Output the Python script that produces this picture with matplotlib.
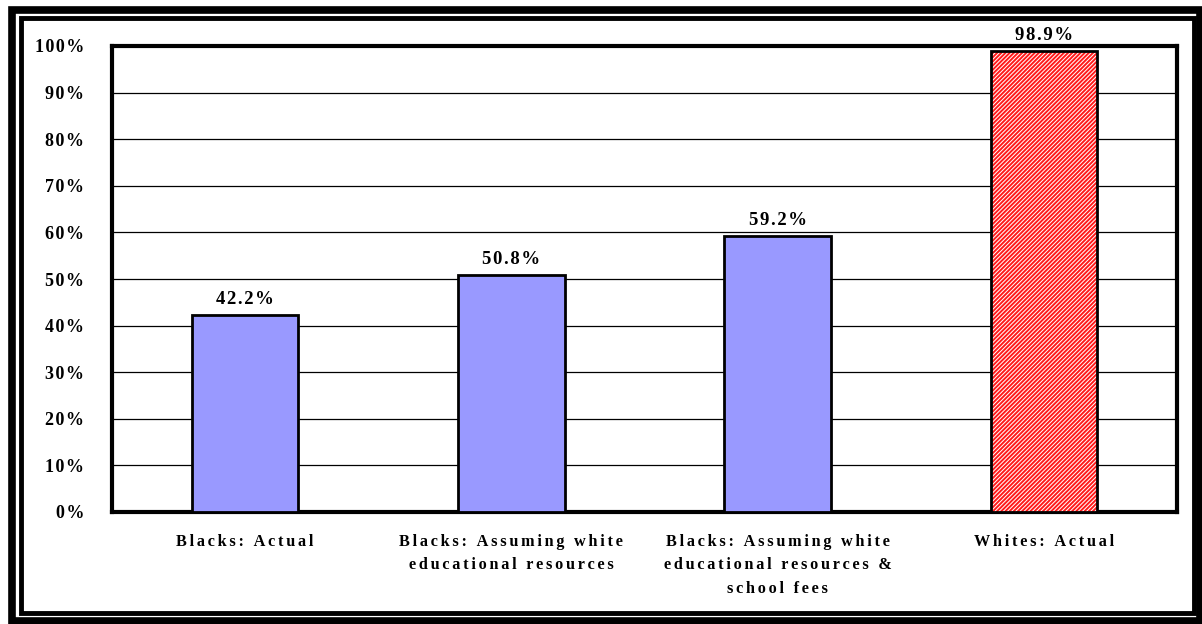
import matplotlib
matplotlib.use("Agg")
import matplotlib.pyplot as plt
from matplotlib.patches import Rectangle

categories = ["Blacks: Actual",
              "Blacks: Assuming white\neducational resources",
              "Blacks: Assuming white\neducational resources &\nschool fees",
              "Whites: Actual"]
values = [42.2, 50.8, 59.2, 98.9]
value_labels = ["42.2%", "50.8%", "59.2%", "98.9%"]
yticks = [0, 10, 20, 30, 40, 50, 60, 70, 80, 90, 100]
ytick_labels = [f"{v}%" for v in yticks]


def spaced(s, n=1):
    sep = "\u200a" * n
    return "\n".join(sep.join(line) for line in s.split("\n"))


plt.rcParams["hatch.linewidth"] = 1.4
W, H = 1202, 624
fig = plt.figure(figsize=(W / 100, H / 100), dpi=100)
font = "Liberation Serif"

# double frame
fig.patches.append(Rectangle((11.5 / W, 3.5 / H), (W - 2 - 11.5) / W, (H - 3.5 - 9.5) / H,
                             transform=fig.transFigure, fill=False, lw=5.5, ec="black"))
fig.patches.append(Rectangle((20.5 / W, 11 / H), (1193.5 - 20.5) / W, (H - 11 - 18) / H,
                             transform=fig.transFigure, fill=False, lw=3.5, ec="black"))

left, right, top, bottom = 112, 1177, 46, 512
ax = fig.add_axes([left / W, 1 - bottom / H, (right - left) / W, (bottom - top) / H])

x = list(range(len(categories)))
ax.bar(x[:3], values[:3], width=0.4, color="#9999FF", edgecolor="black", linewidth=2, zorder=3)
ax.bar(x[3:], values[3:], width=0.4, color="white", edgecolor="#FF1A1A", hatch="////////",
       linewidth=0, zorder=3)
ax.bar(x[3:], values[3:], width=0.4, fill=False, edgecolor="black", linewidth=2, zorder=4)

for xi, v, lab in zip(x, values, value_labels):
    ax.text(xi, v + 1.6, spaced(lab), ha="center", va="bottom", fontsize=13.5,
            fontweight="bold", family=font)

ax.set_xlim(-0.5, 3.5)
ax.set_ylim(0, 100)
ax.set_yticks(yticks)
ax.set_yticklabels([spaced(t) for t in ytick_labels], fontsize=13, fontweight="bold", family=font)
ax.set_xticks(x)
ax.set_xticklabels([spaced(c, 2) for c in categories], fontsize=11.7, fontweight="bold",
                   family=font, linespacing=1.6)
ax.tick_params(axis="both", length=0)
ax.tick_params(axis="y", pad=20)
ax.tick_params(axis="x", pad=16)
ax.yaxis.grid(True, color="black", linewidth=0.9, zorder=0)
ax.set_axisbelow(True)
for s in ax.spines.values():
    s.set_linewidth(3)
    s.set_color("black")

fig.savefig("out.png", dpi=100)
